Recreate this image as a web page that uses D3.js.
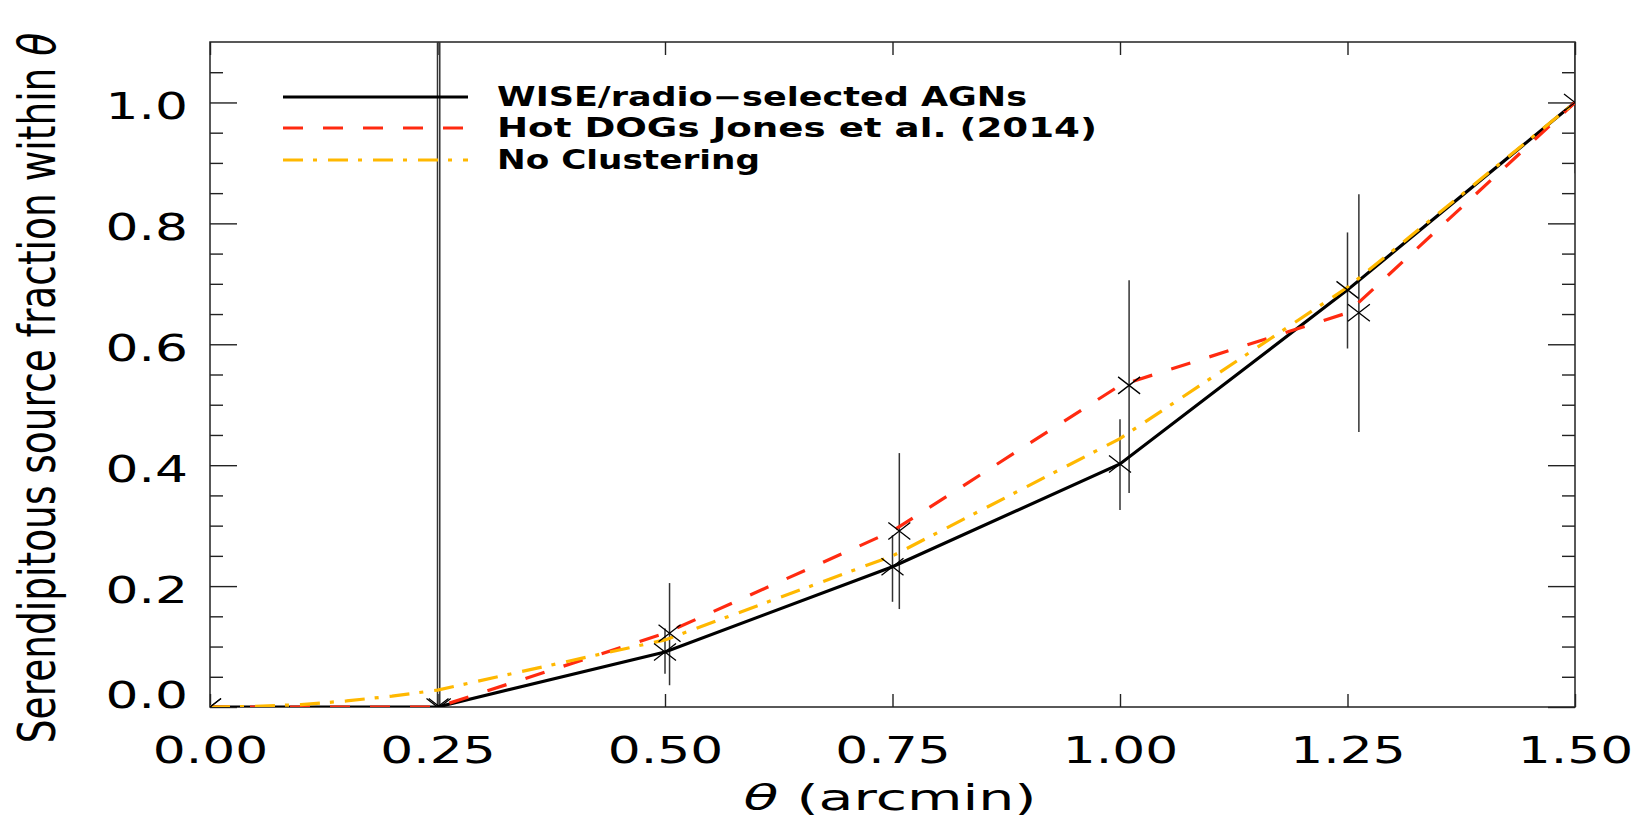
<!DOCTYPE html>
<html>
<head>
<meta charset="utf-8">
<script src="https://cdn.jsdelivr.net/npm/d3@7"></script>
<style>
body { margin: 0; background: #fff; }
svg { display: block; }
text { font-family: "DejaVu Sans", sans-serif; fill: #000; }
</style>
</head>
<body>
<script>
var width = 1639,
	height = 821,
	colorAgn = "#000000",
	colorHotdog = "#ff2a10",
	colorNoClust = "#ffb800",
	stretch = 1.42; // text in the original is stretched sideways

// data
var theta = [0, 0.25, 0.5, 0.75, 1.0, 1.25, 1.5];
var agnFrac = [0, 0, 0.091, 0.232, 0.402, 0.690, 1.0];
var agnLo = [0, -0.6, 0.055, 0.174, 0.326, 0.593, 0.883];
var agnHi = [0, 1.6, 0.130, 0.284, 0.476, 0.785, 1.117];
var hotdogFrac = [0, 0, 0.122, 0.291, 0.532, 0.652, 1.0];
var hotdogLo = [0, -0.6, 0.036, 0.162, 0.354, 0.455, 1.0];
var hotdogHi = [0, 1.6, 0.205, 0.420, 0.706, 0.848, 1.0];
var hotdogShift = 1.01; // Hot DOG symbols are drawn slightly to the right
var noClustTheta = [0, 0.05, 0.1, 0.15, 0.2, 0.25, 0.5, 0.75, 1.0, 1.25, 1.5];
var noClustFrac = [0, 0.001, 0.004, 0.010, 0.018, 0.028, 0.111, 0.250, 0.444, 0.694, 1.0];
var xTicks = [0, 0.25, 0.5, 0.75, 1.0, 1.25, 1.5];
var yMajor = [0, 0.2, 0.4, 0.6, 0.8, 1.0];
var yMinor = [0.05, 0.1, 0.15, 0.25, 0.3, 0.35, 0.45, 0.5, 0.55, 0.65, 0.7, 0.75, 0.85, 0.9, 0.95, 1.05];
var legendNames = ["WISE/radio\u2212selected AGNs", "Hot DOGs Jones et al. (2014)", "No Clustering"];

var x0 = 210, x1 = 1575, y0 = 707, y1 = 42;

var svg = d3.select("body")
	.append("svg")
	.attr("width", width)
	.attr("height", height);

var x = d3.scaleLinear().domain([0, 1.5]).range([x0, x1]);
var y = d3.scaleLinear().domain([0, 1.1]).range([y0, y1]);

svg.append("clipPath").attr("id", "plotclip")
	.append("rect")
	.attr("x", x0).attr("y", y1)
	.attr("width", x1 - x0).attr("height", y0 - y1);

// ---- axes ----
function styleAxis(g) {
	g.select(".domain").remove();
	g.selectAll("line").attr("stroke", "#222").attr("stroke-width", 1.4);
}

var bottom = svg.append("g")
	.attr("transform", "translate(0," + y0 + ")")
	.call(d3.axisBottom(x).tickValues(xTicks).tickSize(-13).tickFormat(d3.format(".2f")))
	.call(styleAxis);
bottom.selectAll("text")
	.attr("y", 56).attr("dy", null)
	.attr("font-size", 36.5)
	.attr("transform", "scale(" + stretch + ",1)");

svg.append("g")
	.attr("transform", "translate(0," + y1 + ")")
	.call(d3.axisTop(x).tickValues(xTicks).tickSize(-13).tickFormat(""))
	.call(styleAxis);

svg.append("g")
	.attr("transform", "translate(" + x0 + ",0)")
	.call(d3.axisLeft(y).tickValues(yMinor).tickSize(-13).tickFormat(""))
	.call(styleAxis);

var left = svg.append("g")
	.attr("transform", "translate(" + x0 + ",0)")
	.call(d3.axisLeft(y).tickValues(yMajor).tickSize(-27).tickFormat(d3.format(".1f")))
	.call(styleAxis);
left.selectAll("text")
	.attr("x", -22 / stretch).attr("dy", null)
	.attr("y", function(d) { return d === 0 ? 0 : 16; })
	.attr("font-size", 36.5)
	.attr("text-anchor", "end")
	.attr("transform", "scale(" + stretch + ",1)");

svg.append("g")
	.attr("transform", "translate(" + x1 + ",0)")
	.call(d3.axisRight(y).tickValues(yMinor).tickSize(-13).tickFormat(""))
	.call(styleAxis);
svg.append("g")
	.attr("transform", "translate(" + x1 + ",0)")
	.call(d3.axisRight(y).tickValues(yMajor).tickSize(-27).tickFormat(""))
	.call(styleAxis);

// frame
svg.append("rect")
	.attr("x", x0).attr("y", y1)
	.attr("width", x1 - x0).attr("height", y0 - y1)
	.attr("fill", "none")
	.attr("stroke", "#222")
	.attr("stroke-width", 1.5);

// ---- data ----
var plot = svg.append("g").attr("clip-path", "url(#plotclip)");

var agn = theta.map(function(t, i) {
	return { x: t, y: agnFrac[i], lo: agnLo[i], hi: agnHi[i] };
});
var hotdog = theta.map(function(t, i) {
	return { x: t, y: hotdogFrac[i], lo: hotdogLo[i], hi: hotdogHi[i] };
});
var noClust = noClustTheta.map(function(t, i) {
	return { x: t, y: noClustFrac[i] };
});

// error bars
plot.selectAll(".err-agn")
	.data(agn)
	.enter().append("line")
	.attr("class", "err-agn")
	.attr("x1", function(d) { return x(d.x); })
	.attr("x2", function(d) { return x(d.x); })
	.attr("y1", function(d) { return y(d.lo); })
	.attr("y2", function(d) { return y(d.hi); })
	.attr("stroke", "#333")
	.attr("stroke-width", 1.5);

plot.selectAll(".err-hd")
	.data(hotdog)
	.enter().append("line")
	.attr("class", "err-hd")
	.attr("x1", function(d) { return x(d.x * hotdogShift); })
	.attr("x2", function(d) { return x(d.x * hotdogShift); })
	.attr("y1", function(d) { return y(d.lo); })
	.attr("y2", function(d) { return y(d.hi); })
	.attr("stroke", "#333")
	.attr("stroke-width", 1.5);

var line = d3.line()
	.x(function(d) { return x(d.x); })
	.y(function(d) { return y(d.y); });

plot.append("path").datum(agn)
	.attr("d", line)
	.attr("fill", "none")
	.attr("stroke", colorAgn)
	.attr("stroke-width", 3.2);

plot.append("path").datum(hotdog)
	.attr("d", line)
	.attr("fill", "none")
	.attr("stroke", colorHotdog)
	.attr("stroke-width", 3.2)
	.attr("stroke-dasharray", "20,20");

plot.append("path").datum(noClust)
	.attr("d", line)
	.attr("fill", "none")
	.attr("stroke", colorNoClust)
	.attr("stroke-width", 3.2)
	.attr("stroke-dasharray", "20,10,4,11");

// X symbols
var cross = "M-11,-8.5L11,8.5M-11,8.5L11,-8.5";
plot.selectAll(".sym-agn")
	.data(agn)
	.enter().append("path")
	.attr("class", "sym-agn")
	.attr("d", cross)
	.attr("transform", function(d) { return "translate(" + x(d.x) + "," + y(d.y) + ")"; })
	.attr("stroke", "#000")
	.attr("stroke-width", 1.3)
	.attr("fill", "none");

plot.selectAll(".sym-hd")
	.data(hotdog)
	.enter().append("path")
	.attr("class", "sym-hd")
	.attr("d", cross)
	.attr("transform", function(d) { return "translate(" + x(d.x * hotdogShift) + "," + y(d.y) + ")"; })
	.attr("stroke", "#000")
	.attr("stroke-width", 1.3)
	.attr("fill", "none");

// ---- legend ----
var legendStyles = [
	{ color: colorAgn, dash: null },
	{ color: colorHotdog, dash: "20,20" },
	{ color: colorNoClust, dash: "20,10,4,11" }
];
var legendRows = [97, 128, 160];
var legendWidths = [530, 600, 263];

var legend = svg.append("g");
legendNames.forEach(function(name, i) {
	legend.append("line")
		.attr("x1", 283).attr("x2", 468)
		.attr("y1", legendRows[i]).attr("y2", legendRows[i])
		.attr("stroke", legendStyles[i].color)
		.attr("stroke-width", 3)
		.attr("stroke-dasharray", legendStyles[i].dash);
	legend.append("text")
		.attr("x", 497)
		.attr("y", legendRows[i] + 9)
		.attr("font-size", 26)
		.attr("font-weight", "bold")
		.attr("textLength", legendWidths[i])
		.attr("lengthAdjust", "spacingAndGlyphs")
		.text(name);
});

// ---- axis titles ----
var xlab = svg.append("text")
	.attr("x", 890)
	.attr("y", 810)
	.attr("text-anchor", "middle")
	.attr("font-size", 36)
	.attr("textLength", 293)
	.attr("lengthAdjust", "spacingAndGlyphs");
xlab.append("tspan").attr("font-style", "italic").text("\u03b8");
xlab.append("tspan").text(" (arcmin)");

// rotated title; the sideways stretch makes the glyphs taller on screen
var ylab = svg.append("text")
	.attr("transform", "translate(55,388) scale(1.39,1) rotate(-90)")
	.attr("text-anchor", "middle")
	.attr("font-size", 37.5);
ylab.append("tspan").text("Serendipitous source fraction within ");
ylab.append("tspan").attr("font-style", "italic").text("\u03b8");
</script>
</body>
</html>
